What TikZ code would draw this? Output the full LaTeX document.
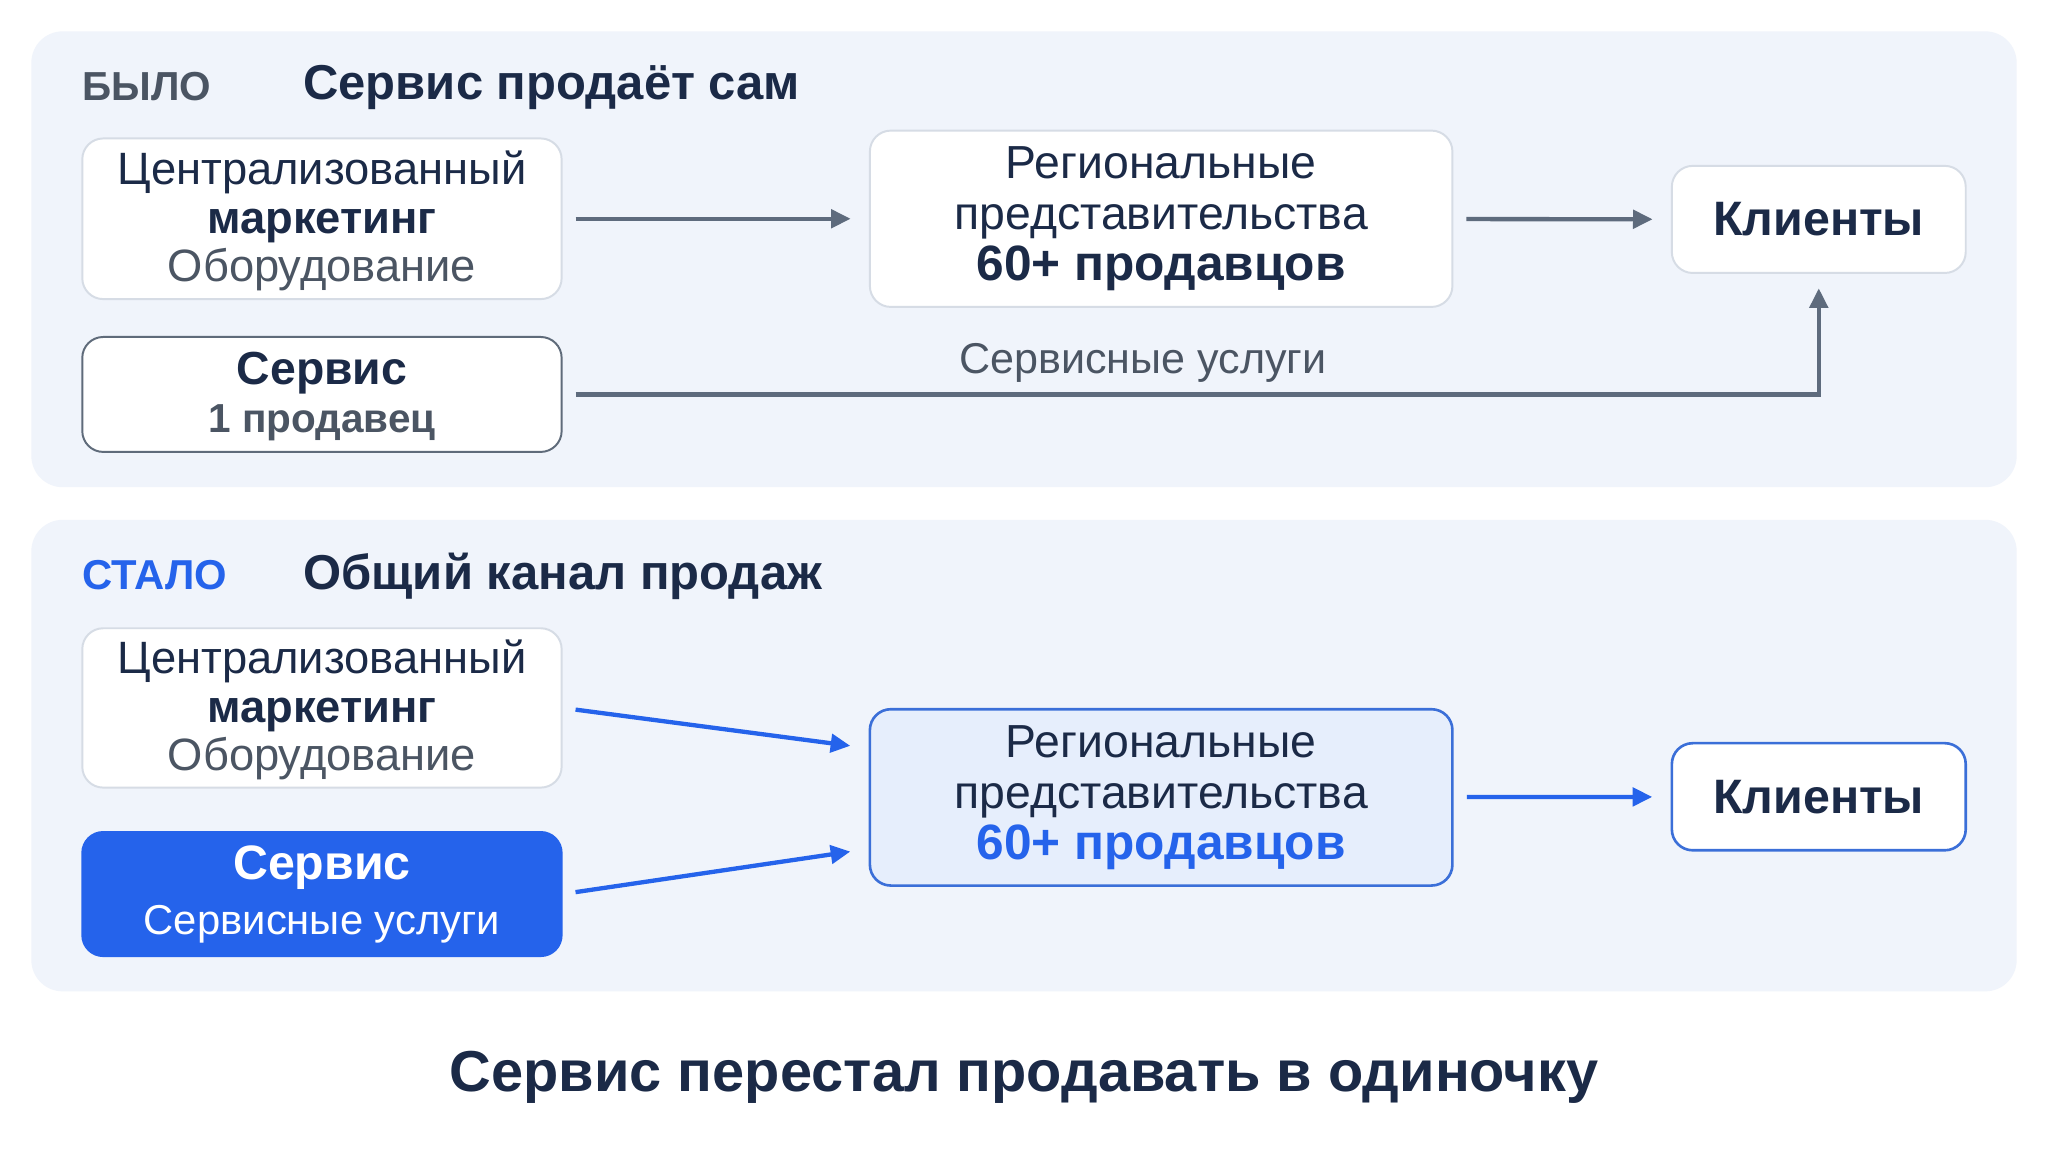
\documentclass[tikz,border=0pt]{standalone}
\usepackage{fontspec}
\setmainfont{Liberation Sans}
\usetikzlibrary{arrows.meta,calc}
\definecolor{navy}{RGB}{27,42,71}
\definecolor{txtgray}{RGB}{75,85,99}
\definecolor{arrgray}{RGB}{94,107,125}
\definecolor{panelbg}{RGB}{240,244,251}
\definecolor{lightborder}{RGB}{214,220,229}
\definecolor{darkborder}{RGB}{95,107,122}
\definecolor{mainblue}{RGB}{37,99,235}
\definecolor{paleblue}{RGB}{230,238,252}
\definecolor{boxblue}{RGB}{59,111,216}
\tikzset{
  panel/.style={fill=panelbg, draw=none, rounded corners=24pt},
  card/.style={draw=lightborder, line width=1.5pt, fill=white, rounded corners=16pt, inner sep=0pt, align=center, text=navy, font=\fontsize{34.7}{37}\selectfont},
  garrow/.style={draw=arrgray, line width=3.3pt, -{Triangle[length=15pt,width=14pt]}, shorten <=10pt, shorten >=14pt},
  barrow/.style={draw=mainblue, line width=3.3pt, -{Triangle[length=15pt,width=14pt]}, shorten <=10pt},
  tag/.style={anchor=west, inner sep=0pt, font=\fontsize{31}{34}\selectfont\bfseries},
  head/.style={anchor=west, inner sep=0pt, text=navy, font=\fontsize{37.5}{40}\selectfont\bfseries},
}
\begin{document}
\begin{tikzpicture}[x=1pt,y=-1pt]
\useasboundingbox[fill=white] (0,0) rectangle (1568,882);
% panels
\fill[panel] (24,24) rectangle (1544,373);
\fill[panel] (24,398) rectangle (1544,759);

% ---------- top panel ----------
\node[tag, text=txtgray] (was) at (63,66) {БЫЛО};
\node[head] (wastitle) at (232,67) {Сервис продаёт сам};

\node[card, minimum width=367pt, minimum height=123pt] (A1) at (246.5,167.5)
  {\rule{0pt}{29pt}Централизованный\\\textbf{маркетинг}\\{\color{txtgray}Оборудование}};
\node[card, draw=darkborder, minimum width=367pt, minimum height=88pt] (B1) at (246.5,302)
  {\rule{0pt}{28pt}\fontsize{35.5}{36}\selectfont\bfseries Сервис\\[0pt]{\fontsize{31}{36}\selectfont\bfseries\color{txtgray}1 продавец}};
\node[card, minimum width=446pt, minimum height=135pt, font=\fontsize{35.5}{39}\selectfont] (R1) at (889,167.5)
  {Региональные\\представительства\\{\fontsize{38}{41}\selectfont\bfseries 60+ продавцов}};
\node[card, minimum width=225pt, minimum height=82pt, font=\fontsize{37}{40}\selectfont\bfseries] (K1) at (1392.5,168)
  {Клиенты};

\draw[garrow] (A1) -- (R1);
\draw[garrow] (R1) -- (K1);
\draw[garrow, shorten >=11pt] (B1.east) -| (K1.south);
\node[text=txtgray, inner sep=0pt, font=\fontsize{33}{34}\selectfont] (svc) at (875,278) {Сервисные услуги};

% ---------- bottom panel ----------
\node[tag, text=mainblue] (now) at (63,440) {\fontsize{32}{34}\selectfont СТАЛО};
\node[head] (nowtitle) at (232,441) {Общий канал продаж};

\node[card, minimum width=367pt, minimum height=122pt] (A2) at (246.5,542)
  {\rule{0pt}{29pt}Централизованный\\\textbf{маркетинг}\\{\color{txtgray}Оборудование}};
\node[card, draw=mainblue, fill=mainblue, text=white, minimum width=367pt, minimum height=95pt] (B2) at (246.5,684.5)
  {\fontsize{37}{38}\selectfont\bfseries Сервис\\[5pt]{\fontsize{32}{36}\selectfont Сервисные услуги}};
\node[card, draw=boxblue, fill=paleblue, line width=2pt, minimum width=446pt, minimum height=135pt, font=\fontsize{35.5}{39}\selectfont] (R2) at (889,610.5)
  {Региональные\\представительства\\{\fontsize{38}{41}\selectfont\bfseries\color{mainblue}60+ продавцов}};
\node[card, draw=boxblue, line width=2pt, minimum width=225pt, minimum height=82pt, font=\fontsize{37}{40}\selectfont\bfseries] (K2) at (1392.5,610)
  {Клиенты};

\draw[barrow] (A2.east) -- ($(R2.west)+(-14,-39.5)$);
\draw[barrow] (B2.east) -- ($(R2.west)+(-14,41.5)$);
\draw[barrow, shorten >=14pt] (R2) -- (K2);

% ---------- caption ----------
\node[text=navy, inner sep=0pt, font=\fontsize{44.2}{46}\selectfont\bfseries] (caption) at (784,825)
  {Сервис перестал продавать в одиночку};
\end{tikzpicture}
\end{document}
